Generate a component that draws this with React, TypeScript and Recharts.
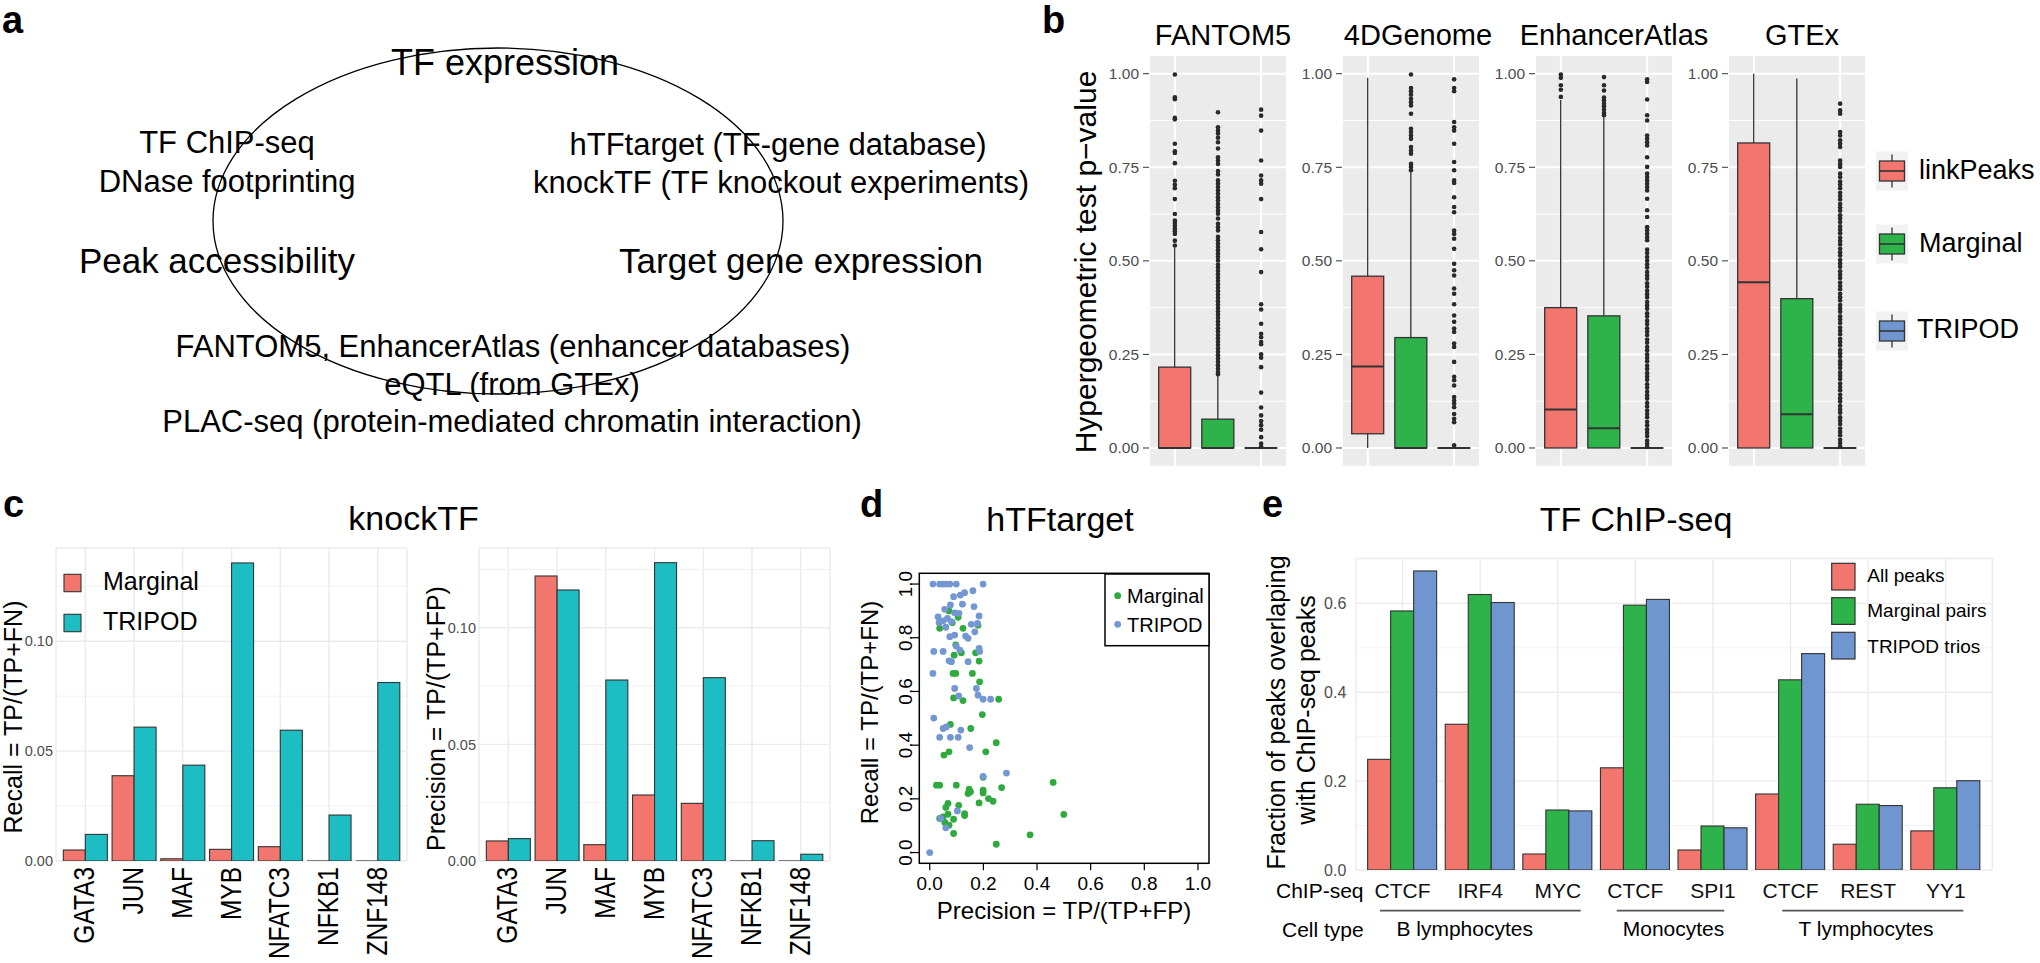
import React from 'react';
import {
  BarChart,
  Bar,
  ComposedChart,
  ScatterChart,
  Scatter,
  XAxis,
  YAxis,
  CartesianGrid,
  ReferenceLine,
} from 'recharts';

const FONT = '"Liberation Sans", Arial, Helvetica, sans-serif';

const RED = '#F3766E';
const GREEN = '#2DB34A';
const BLUE = '#6F96CF';
const CYAN = '#1DBEC3';
const OUTLINE = '#333333';

// ---------- b: hypergeometric test p-values ----------
const boxGroups = ['linkPeaks', 'Marginal', 'TRIPOD'];
const boxColors = [RED, GREEN, BLUE];
const boxFacetTitles = ['FANTOM5', '4DGenome', 'EnhancerAtlas', 'GTEx'];

// [lower whisker, q1, median, q3, upper whisker] for linkPeaks, Marginal, TRIPOD
const fantomBox = [[0, 0, 0, 0.216, 0.536], [0, 0, 0, 0.077, 0.194], [0, 0, 0, 0, 0]];
const genome4dBox = [[0, 0.038, 0.218, 0.459, 0.989], [0, 0, 0, 0.295, 0.737], [0, 0, 0, 0, 0]];
const enhancerBox = [[0, 0, 0.103, 0.375, 0.93], [0, 0, 0.053, 0.353, 0.884], [0, 0, 0, 0, 0]];
const gtexBox = [[0, 0, 0.443, 0.815, 1.0], [0, 0, 0.09, 0.399, 0.987], [0, 0, 0, 0, 0]];

const fantomLinkOut = [0.998, 0.937, 0.932, 0.882, 0.878, 0.813, 0.793, 0.788, 0.761, 0.714, 0.703, 0.694, 0.665, 0.625, 0.608, 0.601, 0.594, 0.586, 0.579, 0.572, 0.554, 0.541];
const fantomMargOut = [0.897, 0.857, 0.848, 0.84, 0.829, 0.817, 0.8, 0.777, 0.768, 0.759, 0.74, 0.731, 0.715, 0.706, 0.697, 0.688, 0.679, 0.67, 0.661, 0.652, 0.643, 0.634, 0.626, 0.613, 0.599, 0.59, 0.581, 0.564, 0.555, 0.546, 0.537, 0.528, 0.519, 0.51, 0.501, 0.49, 0.482, 0.473, 0.464, 0.455, 0.446, 0.437, 0.428, 0.419, 0.41, 0.401, 0.392, 0.383, 0.374, 0.365, 0.356, 0.347, 0.338, 0.329, 0.32, 0.311, 0.302, 0.293, 0.284, 0.275, 0.266, 0.257, 0.248, 0.239, 0.23, 0.221, 0.212, 0.203, 0.197];
const fantomTripOut = [0.904, 0.888, 0.848, 0.768, 0.728, 0.715, 0.706, 0.665, 0.577, 0.531, 0.47, 0.384, 0.37, 0.332, 0.305, 0.296, 0.283, 0.277, 0.25, 0.241, 0.216, 0.148, 0.108, 0.087, 0.072, 0.061, 0.049, 0.029, 0.012, 0.004];

const genomeLinkOut: number[] = [];
const genomeMargOut = [0.998, 0.962, 0.953, 0.944, 0.933, 0.924, 0.915, 0.893, 0.853, 0.844, 0.835, 0.826, 0.804, 0.795, 0.786, 0.759, 0.751, 0.742];
const genomeTripOut = [0.985, 0.962, 0.953, 0.871, 0.857, 0.848, 0.813, 0.764, 0.742, 0.715, 0.708, 0.67, 0.644, 0.63, 0.581, 0.572, 0.559, 0.532, 0.492, 0.475, 0.461, 0.426, 0.412, 0.384, 0.354, 0.337, 0.319, 0.31, 0.279, 0.27, 0.23, 0.19, 0.181, 0.167, 0.136, 0.127, 0.118, 0.109, 0.091, 0.078, 0.069, 0.007];

const enhLinkOut = [0.998, 0.989, 0.969, 0.957, 0.938];
const enhMargOut = [0.991, 0.969, 0.955, 0.936, 0.929, 0.92, 0.913, 0.904, 0.895, 0.889];
const enhTripOut = [0.985, 0.978, 0.931, 0.889, 0.875, 0.835, 0.826, 0.817, 0.808, 0.777, 0.751, 0.733, 0.724, 0.715, 0.706, 0.697, 0.688, 0.666, 0.635, 0.617, 0.59, 0.581, 0.572, 0.563, 0.555, 0.53, 0.521, 0.51, 0.5, 0.491, 0.482, 0.47, 0.461, 0.452, 0.44, 0.431, 0.42, 0.411, 0.402, 0.39, 0.381, 0.372, 0.36, 0.351, 0.34, 0.331, 0.32, 0.311, 0.302, 0.29, 0.281, 0.27, 0.261, 0.25, 0.241, 0.232, 0.22, 0.211, 0.2, 0.191, 0.182, 0.17, 0.161, 0.15, 0.141, 0.132, 0.12, 0.111, 0.1, 0.091, 0.082, 0.07, 0.061, 0.05, 0.041, 0.032, 0.02, 0.011, 0.003];

const gtexLinkOut: number[] = [];
const gtexMargOut: number[] = [];
const gtexTripOut = [0.92, 0.902, 0.893, 0.844, 0.835, 0.822, 0.813, 0.804, 0.768, 0.759, 0.751, 0.733, 0.724, 0.712, 0.703, 0.694, 0.682, 0.673, 0.664, 0.652, 0.643, 0.634, 0.622, 0.613, 0.604, 0.592, 0.583, 0.574, 0.562, 0.553, 0.544, 0.532, 0.523, 0.514, 0.502, 0.493, 0.484, 0.472, 0.463, 0.454, 0.442, 0.433, 0.424, 0.412, 0.403, 0.394, 0.382, 0.373, 0.364, 0.352, 0.343, 0.334, 0.322, 0.313, 0.304, 0.292, 0.283, 0.274, 0.262, 0.253, 0.244, 0.232, 0.223, 0.214, 0.202, 0.193, 0.184, 0.172, 0.163, 0.154, 0.142, 0.133, 0.124, 0.112, 0.103, 0.094, 0.082, 0.073, 0.064, 0.052, 0.043, 0.034, 0.022, 0.013, 0.004];

const boxTicks = [0, 0.25, 0.5, 0.75, 1];
const boxMinor = [0.125, 0.375, 0.625, 0.875];

// ---------- c: knockTF ----------
const knockGenes = ['GATA3', 'JUN', 'MAF', 'MYB', 'NFATC3', 'NFKB1', 'ZNF148'];
const recallMarginal = [0.005, 0.0388, 0.001, 0.0053, 0.0065, 0, 0];
const recallTripod = [0.0121, 0.0609, 0.0436, 0.1356, 0.0595, 0.0209, 0.0812];
const precisionMarginal = [0.0086, 0.1222, 0.007, 0.0283, 0.0247, 0, 0];
const precisionTripod = [0.0096, 0.1162, 0.0776, 0.1279, 0.0786, 0.0087, 0.0029];
const knockTicks = [0, 0.05, 0.1];
const knockMinor = [0.025, 0.075, 0.125];

// ---------- d: hTFtarget ----------
const htfMarginal: [number, number][] = [
  [0.072, 0.9], [0.106, 0.876], [0.037, 0.835], [0.084, 0.856], [0.124, 0.835], [0.18, 0.847], [0.097, 0.773],
  [0.091, 0.735], [0.118, 0.744], [0.171, 0.744], [0.184, 0.713], [0.087, 0.667], [0.097, 0.667], [0.159, 0.667],
  [0.186, 0.636], [0.089, 0.576], [0.124, 0.566], [0.257, 0.571], [0.196, 0.514], [0.077, 0.477], [0.153, 0.462],
  [0.248, 0.409], [0.053, 0.363], [0.072, 0.375], [0.209, 0.375], [0.199, 0.28], [0.025, 0.251], [0.037, 0.251],
  [0.099, 0.251], [0.147, 0.236], [0.143, 0.22], [0.152, 0.226], [0.199, 0.232], [0.199, 0.222], [0.268, 0.242],
  [0.219, 0.201], [0.236, 0.191], [0.184, 0.185], [0.068, 0.183], [0.06, 0.168], [0.108, 0.176], [0.13, 0.145],
  [0.13, 0.138], [0.037, 0.127], [0.05, 0.133], [0.068, 0.143], [0.056, 0.112], [0.089, 0.124], [0.072, 0.102],
  [0.089, 0.071], [0.46, 0.261], [0.5, 0.142], [0.374, 0.066], [0.248, 0.031],
];
const htfTripod: [number, number][] = [
  [0.012, 1.0], [0.037, 1.0], [0.05, 1.0], [0.062, 1.0], [0.075, 1.0], [0.099, 1.0], [0.199, 1.0],
  [0.161, 0.975], [0.13, 0.968], [0.114, 0.959], [0.089, 0.953], [0.122, 0.925], [0.077, 0.922], [0.165, 0.916],
  [0.056, 0.906], [0.093, 0.893], [0.109, 0.891], [0.031, 0.878], [0.184, 0.881], [0.066, 0.872], [0.05, 0.863],
  [0.035, 0.856], [0.081, 0.86], [0.155, 0.85], [0.178, 0.853], [0.06, 0.839], [0.168, 0.822], [0.075, 0.804],
  [0.093, 0.81], [0.134, 0.806], [0.143, 0.798], [0.099, 0.769], [0.015, 0.749], [0.05, 0.749], [0.112, 0.754],
  [0.184, 0.76], [0.186, 0.749], [0.072, 0.714], [0.081, 0.711], [0.143, 0.711], [0.012, 0.667], [0.093, 0.611],
  [0.108, 0.583], [0.174, 0.611], [0.18, 0.586], [0.199, 0.571], [0.227, 0.571], [0.015, 0.501], [0.05, 0.462],
  [0.062, 0.468], [0.037, 0.429], [0.077, 0.429], [0.106, 0.429], [0.116, 0.456], [0.149, 0.391], [0.199, 0.284],
  [0.286, 0.296], [0.103, 0.155], [0.041, 0.127], [0.06, 0.092], [0.0, 0.0],
];
const htfTicks = [0, 0.2, 0.4, 0.6, 0.8, 1];

// ---------- e: TF ChIP-seq ----------
const chipIds = ['B_CTCF', 'B_IRF4', 'B_MYC', 'M_CTCF', 'M_SPI1', 'T_CTCF', 'T_REST', 'T_YY1'];
const chipLabels = ['CTCF', 'IRF4', 'MYC', 'CTCF', 'SPI1', 'CTCF', 'REST', 'YY1'];
const allPeaks = [0.249, 0.328, 0.036, 0.23, 0.045, 0.171, 0.058, 0.088];
const marginalPairs = [0.583, 0.62, 0.135, 0.596, 0.099, 0.428, 0.148, 0.185];
const tripodTrios = [0.673, 0.602, 0.133, 0.609, 0.095, 0.487, 0.145, 0.201];
const chipTicks = [0, 0.2, 0.4, 0.6];
const chipMinor = [0.1, 0.3, 0.5, 0.7];

// ---------- shapes ----------
const BoxShape = (props: any) => {
  const { x, y, width, height, payload } = props;
  if (!payload || !Number.isFinite(y)) return <g />;
  const { min, q1, med, q3, max, fill } = payload;
  const top = Math.min(y, y + height);
  const bot = Math.max(y, y + height);
  const span = max - min;
  const px = (v: number) => (span > 0 ? top + ((bot - top) * (max - v)) / span : top);
  const cx = x + width / 2;
  return (
    <g>
      <line x1={cx} x2={cx} y1={px(max)} y2={px(q3)} stroke={OUTLINE} strokeWidth={1.3} />
      <line x1={cx} x2={cx} y1={px(q1)} y2={px(min)} stroke={OUTLINE} strokeWidth={1.3} />
      <rect x={x} y={px(q3)} width={width} height={Math.max(px(q1) - px(q3), 0.01)} fill={fill} stroke={OUTLINE} strokeWidth={1.3} />
      <line x1={x} x2={x + width} y1={px(med)} y2={px(med)} stroke={OUTLINE} strokeWidth={2} />
    </g>
  );
};

const OutlierDot = (p: any) =>
  Number.isFinite(p.cx) && Number.isFinite(p.cy) ? <circle cx={p.cx} cy={p.cy} r={2.3} fill="#2A2A2A" /> : <g />;

const OutlinedBar = (p: any) => {
  const { x, y, width, height, fill } = p;
  if (!Number.isFinite(y)) return <g />;
  if (!height || Math.abs(height) < 0.6) {
    return <line x1={x} x2={x + width} y1={y} y2={y} stroke={OUTLINE} strokeWidth={1.2} />;
  }
  return <rect x={x} y={y} width={width} height={height} fill={fill} stroke={OUTLINE} strokeWidth={1.1} />;
};

const GeneTick = (p: any) => (
  <g transform={`translate(${p.x},${p.y}) rotate(-90) scale(1,1.2)`}>
    <text x={0} y={7.5} textAnchor="end" fontSize={24.5} fontFamily={FONT} fill="#000">
      {p.payload.value}
    </text>
  </g>
);

const HtfYTick = (p: any) => (
  <text x={p.x} y={p.y} transform={`rotate(-90 ${p.x} ${p.y})`} textAnchor="middle" fontSize={19} fontFamily={FONT} fill="#000">
    {Number(p.payload.value).toFixed(1)}
  </text>
);

// ---------- panels ----------
function BoxFacet({ left, stats, outliers }: { left: number; stats: number[][]; outliers: number[][] }) {
  const rows = boxGroups.map((g, i) => {
    const [min, q1, med, q3, max] = stats[i];
    return { name: g, min, q1, med, q3, max, range: [min, max], fill: boxColors[i] };
  });
  const points = [
    ...boxGroups.map((g) => ({ name: g, v: null as number | null })),
    ...boxGroups.flatMap((g, i) => outliers[i].map((v) => ({ name: g, v }))),
  ];
  const yw = 60;
  return (
    <div style={{ position: 'absolute', left: left - yw, top: 0 }}>
      <ComposedChart width={yw + 140} height={480} data={rows} margin={{ top: 55, right: 2, bottom: 13.3, left: 0 }} barCategoryGap="12.5%">
        <CartesianGrid fill="#EBEBEB" fillOpacity={1} stroke="#FFFFFF" strokeWidth={2} />
        {boxMinor.map((v) => (
          <ReferenceLine key={v} y={v} stroke="#FFFFFF" strokeWidth={1} zIndex={-50} />
        ))}
        <XAxis dataKey="name" type="category" hide allowDuplicatedCategory={false} padding={{ left: 4.3, right: 4.3 }} />
        <YAxis
          type="number"
          domain={[-0.05, 1.05]}
          ticks={boxTicks}
          interval={0}
          allowDataOverflow
          width={yw}
          axisLine={false}
          tickLine={{ stroke: OUTLINE }}
          tickSize={6}
          tickMargin={4}
          tickFormatter={(v: number) => v.toFixed(2)}
          tick={{ fill: '#4D4D4D', fontSize: 15.5, fontFamily: FONT }}
        />
        <Bar dataKey="range" shape={BoxShape} isAnimationActive={false} />
        <Scatter data={points} dataKey="v" shape={OutlierDot} isAnimationActive={false} />
      </ComposedChart>
    </div>
  );
}

function KnockChart({ left, yw, max, marginal, tripod }: { left: number; yw: number; max: number; marginal: number[]; tripod: number[] }) {
  const data = knockGenes.map((g, i) => ({ gene: g, marginal: marginal[i], tripod: tripod[i] }));
  return (
    <div style={{ position: 'absolute', left, top: 480 }}>
      <BarChart width={yw + 351 + 10} height={483} data={data} margin={{ top: 68, right: 10, bottom: 2, left: 0 }} barCategoryGap="5%" barGap={0}>
        <CartesianGrid stroke="#EBEBEB" strokeWidth={1.4} />
        {knockMinor.map((v) => (
          <ReferenceLine key={v} y={v} stroke="#F1F1F1" strokeWidth={1} zIndex={-50} />
        ))}
        <XAxis dataKey="gene" type="category" height={100} interval={0} axisLine={false} tickLine={false} tickSize={0} tickMargin={6} padding={{ left: 4.9, right: 4.9 }} tick={GeneTick} />
        <YAxis
          type="number"
          domain={[0, max]}
          ticks={knockTicks}
          interval={0}
          allowDataOverflow
          width={yw}
          axisLine={false}
          tickLine={false}
          tickSize={0}
          tickMargin={3}
          tickFormatter={(v: number) => v.toFixed(2)}
          tick={{ fill: '#4D4D4D', fontSize: 14.5, fontFamily: FONT }}
        />
        <Bar dataKey="marginal" fill={RED} shape={OutlinedBar} isAnimationActive={false} />
        <Bar dataKey="tripod" fill={CYAN} shape={OutlinedBar} isAnimationActive={false} />
      </BarChart>
    </div>
  );
}

function HtfChart() {
  const marg = htfMarginal.map(([x, y]) => ({ x, y }));
  const trip = htfTripod.map(([x, y]) => ({ x, y }));
  return (
    <div style={{ position: 'absolute', left: 879.3, top: 560 }}>
      <ScatterChart width={339.7} height={348.3} margin={{ top: 13.3, right: 10, bottom: 5, left: 0 }}>
        <XAxis
          type="number"
          dataKey="x"
          domain={[-0.04, 1.04]}
          ticks={htfTicks}
          interval={0}
          allowDataOverflow
          height={40}
          axisLine={false}
          tickLine={{ stroke: '#000', strokeWidth: 1.2 }}
          tickSize={7}
          tickMargin={6}
          tickFormatter={(v: number) => v.toFixed(1)}
          tick={{ fill: '#000', fontSize: 19, fontFamily: FONT }}
        />
        <YAxis
          type="number"
          dataKey="y"
          domain={[-0.04, 1.04]}
          ticks={htfTicks}
          interval={0}
          allowDataOverflow
          width={40}
          axisLine={false}
          tickLine={{ stroke: '#000', strokeWidth: 1.2 }}
          tickSize={7}
          tickMargin={0}
          tick={HtfYTick}
        />
        <Scatter data={marg} fill="#2FAA3E" isAnimationActive={false} shape={(p: any) => <circle cx={p.cx} cy={p.cy} r={3.4} fill="#2FAA3E" />} />
        <Scatter data={trip} fill="#7397D3" isAnimationActive={false} shape={(p: any) => <circle cx={p.cx} cy={p.cy} r={3.4} fill="#7397D3" />} />
      </ScatterChart>
    </div>
  );
}

function ChipChart() {
  const data = chipIds.map((id, i) => ({ id, all: allPeaks[i], marginal: marginalPairs[i], tripod: tripodTrios[i] }));
  return (
    <div style={{ position: 'absolute', left: 1315.7, top: 480 }}>
      <BarChart width={686.3} height={483} data={data} margin={{ top: 78.3, right: 10, bottom: 53, left: 0 }} barCategoryGap="5%" barGap={0}>
        <CartesianGrid stroke="#EBEBEB" strokeWidth={1.4} />
        {chipMinor.map((v) => (
          <ReferenceLine key={v} y={v} stroke="#F1F1F1" strokeWidth={1} zIndex={-50} />
        ))}
        <XAxis
          dataKey="id"
          type="category"
          height={40}
          interval={0}
          axisLine={false}
          tickLine={false}
          tickSize={0}
          tickMargin={13.4}
          padding={{ left: 7.76, right: 7.76 }}
          tickFormatter={(v: string) => chipLabels[chipIds.indexOf(v)]}
          tick={{ fill: '#111', fontSize: 21, fontFamily: FONT }}
        />
        <YAxis
          type="number"
          domain={[0, 0.7015]}
          ticks={chipTicks}
          interval={0}
          allowDataOverflow
          width={40}
          axisLine={false}
          tickLine={false}
          tickSize={0}
          tickMargin={9.7}
          tickFormatter={(v: number) => v.toFixed(1)}
          tick={{ fill: '#4D4D4D', fontSize: 16, fontFamily: FONT }}
        />
        <Bar dataKey="all" fill={RED} shape={OutlinedBar} isAnimationActive={false} />
        <Bar dataKey="marginal" fill={GREEN} shape={OutlinedBar} isAnimationActive={false} />
        <Bar dataKey="tripod" fill={BLUE} shape={OutlinedBar} isAnimationActive={false} />
      </BarChart>
    </div>
  );
}

const T = ({ children, ...rest }: any) => (
  <text fontFamily={FONT} fill="#000" {...rest}>
    {children}
  </text>
);

function LegendBoxKey({ cy, fill }: { cy: number; fill: string }) {
  return (
    <g>
      <rect x={1876} y={cy - 19.5} width={32} height={39} fill="#F2F2F2" />
      <line x1={1892} x2={1892} y1={cy - 16.5} y2={cy + 16.5} stroke={OUTLINE} strokeWidth={1.3} />
      <rect x={1879.5} y={cy - 10} width={25} height={20} fill={fill} stroke={OUTLINE} strokeWidth={1.3} />
      <line x1={1879.5} x2={1904.5} y1={cy} y2={cy} stroke={OUTLINE} strokeWidth={1.6} />
    </g>
  );
}

function Overlay() {
  return (
    <svg width={2040} height={963} style={{ position: 'absolute', left: 0, top: 0, pointerEvents: 'none' }}>
      {/* panel a */}
      <T x={2} y={33} fontSize={38} fontWeight="bold">a</T>
      <ellipse cx={498} cy={221} rx={285} ry={173} fill="none" stroke="#000" strokeWidth={1.3} />
      <T x={505} y={75} fontSize={36} textAnchor="middle">TF expression</T>
      <T x={227} y={153} fontSize={31} textAnchor="middle">TF ChIP-seq</T>
      <T x={227} y={192} fontSize={31} textAnchor="middle">DNase footprinting</T>
      <T x={217} y={273} fontSize={35} textAnchor="middle">Peak accessibility</T>
      <T x={778} y={155} fontSize={31} textAnchor="middle">hTFtarget (TF-gene database)</T>
      <T x={781} y={193} fontSize={31} textAnchor="middle">knockTF (TF knockout experiments)</T>
      <T x={801} y={273} fontSize={35} textAnchor="middle">Target gene expression</T>
      <T x={513} y={357} fontSize={31} textAnchor="middle">FANTOM5, EnhancerAtlas (enhancer databases)</T>
      <T x={512} y={395} fontSize={31} textAnchor="middle">eQTL (from GTEx)</T>
      <T x={512} y={432} fontSize={31} textAnchor="middle">PLAC-seq (protein-mediated chromatin interaction)</T>

      {/* panel b */}
      <T x={1042} y={33} fontSize={38} fontWeight="bold">b</T>
      <T x={1223} y={45} fontSize={29} textAnchor="middle">{boxFacetTitles[0]}</T>
      <T x={1418} y={45} fontSize={29} textAnchor="middle">{boxFacetTitles[1]}</T>
      <T x={1614} y={45} fontSize={29} textAnchor="middle">{boxFacetTitles[2]}</T>
      <T x={1802} y={45} fontSize={29} textAnchor="middle">{boxFacetTitles[3]}</T>
      <T x={1096} y={262} fontSize={30} textAnchor="middle" transform="rotate(-90 1096 262)">Hypergeometric test p−value</T>
      <LegendBoxKey cy={171} fill={RED} />
      <LegendBoxKey cy={244} fill={GREEN} />
      <LegendBoxKey cy={331} fill={BLUE} />
      <T x={1919} y={178.5} fontSize={27}>linkPeaks</T>
      <T x={1919} y={252} fontSize={27}>Marginal</T>
      <T x={1917} y={338} fontSize={27}>TRIPOD</T>

      {/* panel c */}
      <T x={3} y={517} fontSize={38} fontWeight="bold">c</T>
      <T x={413.5} y={530} fontSize={34} textAnchor="middle">knockTF</T>
      <T x={22} y={717} fontSize={25} textAnchor="middle" transform="rotate(-90 22 717)">Recall = TP/(TP+FN)</T>
      <T x={445} y={718.5} fontSize={25} textAnchor="middle" transform="rotate(-90 445 718.5)">Precision = TP/(TP+FP)</T>
      <rect x={64} y={574.3} width={17} height={17.4} fill={RED} stroke={OUTLINE} strokeWidth={1.1} />
      <rect x={64} y={614.3} width={17} height={17.4} fill={CYAN} stroke={OUTLINE} strokeWidth={1.1} />
      <T x={103} y={589.5} fontSize={25}>Marginal</T>
      <T x={103} y={630} fontSize={25}>TRIPOD</T>

      {/* panel d */}
      <T x={860} y={517} fontSize={38} fontWeight="bold">d</T>
      <T x={1060} y={530.7} fontSize={34} textAnchor="middle">hTFtarget</T>
      <rect x={919.3} y={573.3} width={289.7} height={290} fill="none" stroke="#000" strokeWidth={1.5} />
      <T x={1064} y={919} fontSize={24} textAnchor="middle">Precision = TP/(TP+FP)</T>
      <T x={878} y={712.5} fontSize={24} textAnchor="middle" transform="rotate(-90 878 712.5)">Recall = TP/(TP+FN)</T>
      <rect x={1105} y={574} width={104} height={71.7} fill="#fff" stroke="#000" strokeWidth={1.5} />
      <circle cx={1117.7} cy={595.7} r={3.4} fill="#2FAA3E" />
      <circle cx={1117.7} cy={624.3} r={3.4} fill="#7397D3" />
      <T x={1127} y={603.3} fontSize={20}>Marginal</T>
      <T x={1127} y={631.7} fontSize={20}>TRIPOD</T>

      {/* panel e */}
      <T x={1262} y={517} fontSize={38} fontWeight="bold">e</T>
      <T x={1636} y={531} fontSize={34} textAnchor="middle">TF ChIP-seq</T>
      <T x={1284.5} y={712.5} fontSize={25} textAnchor="middle" transform="rotate(-90 1284.5 712.5)">Fraction of peaks overlaping</T>
      <T x={1314.5} y={710} fontSize={25} textAnchor="middle" transform="rotate(-90 1314.5 710)">with ChIP-seq peaks</T>
      <T x={1276} y={898.3} fontSize={21}>ChIP-seq</T>
      <T x={1282} y={936.5} fontSize={21}>Cell type</T>
      <line x1={1380} x2={1580.7} y1={910.7} y2={910.7} stroke="#555" strokeWidth={1.8} />
      <line x1={1616.7} x2={1724.3} y1={910.7} y2={910.7} stroke="#555" strokeWidth={1.8} />
      <line x1={1782.3} x2={1963.3} y1={910.7} y2={910.7} stroke="#555" strokeWidth={1.8} />
      <T x={1464.7} y={936} fontSize={21} textAnchor="middle">B lymphocytes</T>
      <T x={1673.5} y={936} fontSize={21} textAnchor="middle">Monocytes</T>
      <T x={1866} y={936} fontSize={21} textAnchor="middle">T lymphocytes</T>
      <rect x={1831.7} y={563.3} width={23.3} height={26.7} fill={RED} stroke={OUTLINE} strokeWidth={1.2} />
      <rect x={1831.7} y={597.7} width={23.3} height={26.7} fill={GREEN} stroke={OUTLINE} strokeWidth={1.2} />
      <rect x={1831.7} y={632.3} width={23.3} height={26.7} fill={BLUE} stroke={OUTLINE} strokeWidth={1.2} />
      <T x={1867.3} y={581.7} fontSize={19}>All peaks</T>
      <T x={1867.3} y={616.7} fontSize={19}>Marginal pairs</T>
      <T x={1867.3} y={652.7} fontSize={19}>TRIPOD trios</T>
    </svg>
  );
}

export default function App() {
  const facets = [
    { left: 1149, stats: fantomBox, outliers: [fantomLinkOut, fantomMargOut, fantomTripOut] },
    { left: 1342, stats: genome4dBox, outliers: [genomeLinkOut, genomeMargOut, genomeTripOut] },
    { left: 1535, stats: enhancerBox, outliers: [enhLinkOut, enhMargOut, enhTripOut] },
    { left: 1727.5, stats: gtexBox, outliers: [gtexLinkOut, gtexMargOut, gtexTripOut] },
  ];
  return (
    <div style={{ position: 'absolute', left: 0, top: 0, width: 2040, height: 963, background: '#fff', overflow: 'hidden', fontFamily: FONT }}>
      {facets.map((f, i) => (
        <BoxFacet key={boxFacetTitles[i]} left={f.left} stats={f.stats} outliers={f.outliers} />
      ))}
      <KnockChart left={0} yw={56} max={0.1424} marginal={recallMarginal} tripod={recallTripod} />
      <KnockChart left={428.5} yw={50} max={0.1342} marginal={precisionMarginal} tripod={precisionTripod} />
      <HtfChart />
      <ChipChart />
      <Overlay />
    </div>
  );
}
